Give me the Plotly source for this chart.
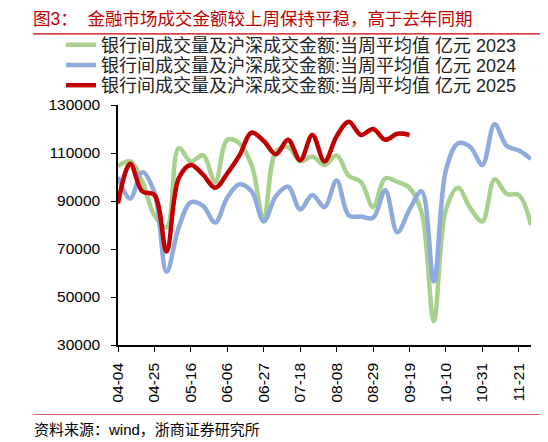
import plotly.graph_objects as go

# weekly dates (Friday), 2025 calendar
weeks = ["04-04", "04-11", "04-18", "04-25", "05-02", "05-09", "05-16", "05-23",
         "05-30", "06-06", "06-13", "06-20", "06-27", "07-04", "07-11", "07-18",
         "07-25", "08-01", "08-08", "08-15", "08-22", "08-29", "09-05", "09-12",
         "09-19", "09-26", "10-03", "10-10", "10-17", "10-24", "10-31", "11-07",
         "11-14", "11-21", "11-28"]

# 银行间成交量及沪深成交金额: 当周平均值, 亿元
v2023 = [104500, 106500, 98000, 84000, 79000, 112000, 106500, 109000, 98000,
         115500, 114000, 105000, 82500, 110500, 112500, 106500, 108500, 105000,
         109000, 100500, 98000, 87500, 99500, 98000, 95500, 85000, 40000, 86500,
         95500, 87000, 81500, 99000, 93000, 92500, 80000]
v2024 = [100000, 91000, 102000, 93500, 60500, 79000, 89500, 88000, 81000,
         91500, 97000, 94000, 81500, 92000, 96000, 86500, 92500, 87500, 98500,
         84000, 83500, 83000, 94500, 77000, 86500, 94000, 56500, 103000, 114000,
         112500, 105000, 122000, 113000, 111000, 107500]
v2025 = [89000, 105500, 94000, 92500, 69000, 99500, 105000, 101000, 95500,
         101500, 109000, 118500, 115000, 109500, 115500, 107000, 117500, 106500,
         117000, 123000, 117500, 120000, 115500, 118000, 117500]

names = ["银行间成交量及沪深成交金额:当周平均值 亿元 2023",
         "银行间成交量及沪深成交金额:当周平均值 亿元 2024",
         "银行间成交量及沪深成交金额:当周平均值 亿元 2025"]
colors = ["#A9D18E", "#8FAADC", "#C00000"]

# latin first (compact line box), CJK glyphs fall back to Noto
cjk = "Liberation Sans, Noto Sans CJK SC"
num_font = "Liberation Sans"

fig = go.Figure()
for vals, nm, c, lg in zip([v2023, v2024, v2025], names, colors,
                           ["legend", "legend2", "legend3"]):
    fig.add_trace(go.Scatter(
        x=weeks[:len(vals)], y=vals, name=nm, mode="lines",
        line=dict(color=c, width=4.5, shape="spline", smoothing=1),
        legend=lg))

# each legend row placed on its own
leg = dict(x=-0.138, xanchor="left", yanchor="middle", bgcolor="rgba(0,0,0,0)",
           font=dict(family=cjk, size=18, color="#222"), borderwidth=0)
fig.update_layout(
    legend=dict(leg, y=1.25),
    legend2=dict(leg, y=1.1656),
    legend3=dict(leg, y=1.0813),
)

# page body has an 8px margin, so the figure is 8px smaller than the window
fig.update_layout(
    width=540, height=434,
    margin=dict(l=110, r=17, t=97, b=97, autoexpand=False),
    paper_bgcolor="white", plot_bgcolor="white",
    showlegend=True,
    xaxis=dict(type="category", range=[0, 34], tickvals=weeks[::3],
               tickangle=-90, ticks="outside", ticklen=5, tickcolor="black",
               ticklabelstandoff=5,
               showline=True, linecolor="black", linewidth=1.5,
               showgrid=False, zeroline=False,
               tickfont=dict(family=num_font, size=15.5, color="black")),
    yaxis=dict(range=[30000, 130000], tick0=30000, dtick=20000, tickformat="d",
               ticks="outside", ticklen=5, tickcolor="black",
               ticklabelstandoff=8,
               showline=True, linecolor="black", linewidth=1.5,
               showgrid=False, zeroline=False,
               tickfont=dict(family=num_font, size=15.5, color="black")),
)

fig.add_annotation(text="图3：  金融市场成交金额较上周保持平稳，高于去年同期",
                   xref="paper", yref="paper", x=-0.208, y=1.3604,
                   xanchor="left", yanchor="middle", showarrow=False,
                   borderpad=0,
                   font=dict(family=cjk, size=17.5, color="#C00000"))
fig.add_annotation(text="资料来源：wind，浙商证券研究所",
                   xref="paper", yref="paper", x=-0.208, y=-0.354,
                   xanchor="left", yanchor="middle", showarrow=False,
                   font=dict(family=cjk, size=15, color="black"))

fig.add_shape(type="line", xref="paper", yref="paper", x0=-0.206, x1=1.041,
              y0=1.296, y1=1.296, line=dict(color="#C00000", width=1.2))
fig.add_shape(type="line", xref="paper", yref="paper", x0=-0.206, x1=1.041,
              y0=-0.2896, y1=-0.2896, line=dict(color="#E06666", width=1.2))

fig.write_html("out.html")
